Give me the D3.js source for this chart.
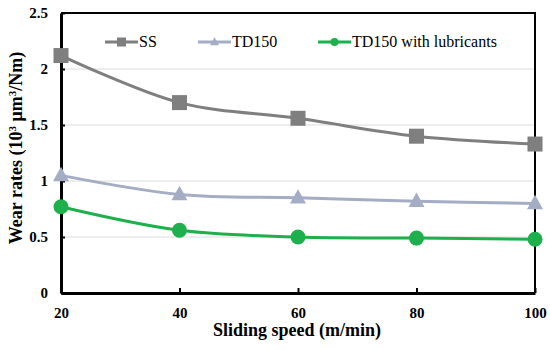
<!DOCTYPE html>
<html>
<head>
<meta charset="utf-8">
<script src="https://cdn.jsdelivr.net/npm/d3@7"></script>
<style>
  body { margin: 0; background: #fff; }
</style>
</head>
<body>
<div id="chart"></div>
<script>
// data
let speeds = [20, 40, 60, 80, 100]
let ssValues = [2.12, 1.70, 1.56, 1.40, 1.33]
let td150Values = [1.05, 0.88, 0.85, 0.82, 0.80]
let lubValues = [0.77, 0.56, 0.50, 0.49, 0.48]
let yTicks = [0, 0.5, 1, 1.5, 2, 2.5]
let xTicks = [20, 40, 60, 80, 100]

let series = [
  { name: 'SS', values: ssValues, color: '#7f7f7f', marker: 'square' },
  { name: 'TD150', values: td150Values, color: '#a5adc4', marker: 'triangle' },
  { name: 'TD150 with lubricants', values: lubValues, color: '#1db04c', marker: 'circle' }
]

let font = '"Liberation Serif", "Times New Roman", Times, serif'

let width = 550
let height = 350
let margin = { top: 13, right: 15, bottom: 57, left: 61 }
let innerWidth = width - margin.left - margin.right
let innerHeight = height - margin.top - margin.bottom

let svg = d3.select('#chart').append('svg')
  .attr('width', width)
  .attr('height', height)
  .attr('font-family', font)

let g = svg.append('g')
  .attr('transform', 'translate(' + margin.left + ',' + margin.top + ')')

let xScale = d3.scaleLinear().domain([20, 100]).range([0, innerWidth])
let yScale = d3.scaleLinear().domain([0, 2.5]).range([innerHeight, 0])

// gridlines
g.selectAll('.grid')
  .data(yTicks.filter(d => d > 0 && d < 2.5))
  .enter().append('line')
  .attr('class', 'grid')
  .attr('x1', 0)
  .attr('x2', innerWidth)
  .attr('y1', d => yScale(d))
  .attr('y2', d => yScale(d))
  .attr('stroke', '#dcdcdc')
  .attr('stroke-width', 1)

// top and right border
g.append('path')
  .attr('d', 'M0,0H' + innerWidth + 'V' + innerHeight)
  .attr('fill', 'none')
  .attr('stroke', '#000')
  .attr('stroke-width', 2)

// axes
let xAxis = g.append('g')
  .attr('transform', 'translate(0,' + innerHeight + ')')
  .call(d3.axisBottom(xScale).tickValues(xTicks).tickSizeInner(-5).tickSizeOuter(0).tickPadding(14))
let yAxis = g.append('g')
  .call(d3.axisLeft(yScale).tickValues(yTicks).tickFormat(d3.format('')).tickSizeInner(-4).tickSizeOuter(0).tickPadding(13))

xAxis.attr('font-family', font)
yAxis.attr('font-family', font)
xAxis.select('.domain').attr('stroke-width', 3)
yAxis.select('.domain').attr('stroke-width', 3)
xAxis.selectAll('.tick line').attr('stroke-width', 2)
yAxis.selectAll('.tick line').attr('stroke-width', 2)
xAxis.selectAll('text').style('font-size', '15px').style('font-weight', 'bold').style('font-family', font).attr('fill', '#000')
yAxis.selectAll('text').style('font-size', '15px').style('font-weight', 'bold').style('font-family', font).attr('fill', '#000')

// axis titles
svg.append('text')
  .attr('x', 297)
  .attr('y', 336)
  .attr('text-anchor', 'middle')
  .style('font-family', font)
  .style('font-size', '18px')
  .style('font-weight', 'bold')
  .text('Sliding speed (m/min)')

let yTitle = svg.append('text')
  .attr('transform', 'translate(22,148) rotate(-90)')
  .attr('text-anchor', 'middle')
  .style('font-family', font)
  .style('font-size', '18px')
  .style('font-weight', 'bold')
yTitle.append('tspan').text('Wear rates (10')
yTitle.append('tspan').attr('dy', -6).style('font-size', '11px').text('3')
yTitle.append('tspan').attr('dy', 6).text(' \u03bcm')
yTitle.append('tspan').attr('dy', -6).style('font-size', '11px').text('3')
yTitle.append('tspan').attr('dy', 6).text('/Nm)')

// lines and markers
let line = d3.line()
  .x((d, i) => xScale(speeds[i]))
  .y(d => yScale(d))
  .curve(d3.curveCatmullRom.alpha(0.5))

function drawMarker (sel, type, size, color) {
  if (type === 'square') {
    sel.append('rect')
      .attr('x', -size / 2).attr('y', -size / 2)
      .attr('width', size).attr('height', size)
      .attr('fill', color)
  } else if (type === 'triangle') {
    let h = size * 0.9
    sel.append('path')
      .attr('d', 'M0,' + (-h * 0.6) + 'L' + (size / 2) + ',' + (h * 0.4) + 'L' + (-size / 2) + ',' + (h * 0.4) + 'Z')
      .attr('fill', color)
  } else {
    sel.append('circle').attr('r', size / 2).attr('fill', color)
  }
}

series.forEach(s => {
  g.append('path')
    .datum(s.values)
    .attr('d', line)
    .attr('fill', 'none')
    .attr('stroke', s.color)
    .attr('stroke-width', 3)

  g.selectAll('.m-' + s.marker)
    .data(s.values)
    .enter().append('g')
    .attr('class', 'm-' + s.marker)
    .attr('transform', (d, i) => 'translate(' + xScale(speeds[i]) + ',' + yScale(d) + ')')
    .each(function () { drawMarker(d3.select(this), s.marker, s.marker === 'triangle' ? 16 : 15, s.color) })
})

// legend
let legendX = [105, 198, 318]
series.forEach((s, i) => {
  let lg = svg.append('g').attr('transform', 'translate(' + legendX[i] + ',42)')
  lg.append('line').attr('x1', 0).attr('x2', 33).attr('y1', 0).attr('y2', 0)
    .attr('stroke', s.color).attr('stroke-width', 3)
  let m = lg.append('g').attr('transform', 'translate(16.5,0)')
  drawMarker(m, s.marker, s.marker === 'circle' ? 8 : 9, s.color)
  lg.append('text').attr('x', 34).attr('y', 5)
    .style('font-family', font)
    .style('font-size', '16px')
    .text(s.name)
})
</script>
</body>
</html>
